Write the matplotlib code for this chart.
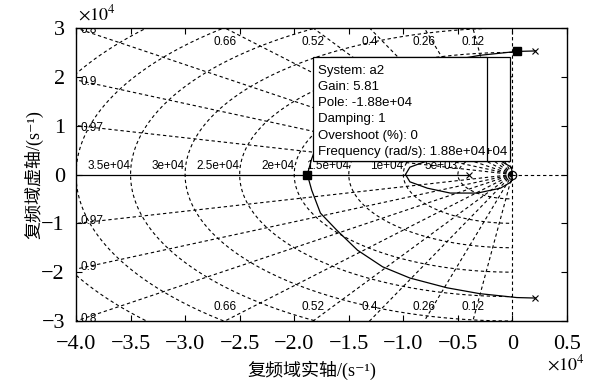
import numpy as np
import matplotlib
matplotlib.use("Agg")
import matplotlib.pyplot as plt
from matplotlib.transforms import offset_copy
from matplotlib.patches import Rectangle

plt.rcParams['mathtext.fontset'] = 'stix'

# ---------------- data ----------------
# upper half of the complex branch (lower half is its mirror)
branch_x = [0.21e4, 0.04e4, -0.30e4, -0.60e4, -0.94e4, -1.19e4, -1.42e4, -1.61e4, -1.76e4, -1.84e4, -1.88e4]
branch_y = [2.53e4, 2.52e4, 2.44e4, 2.32e4, 2.12e4, 1.89e4, 1.55e4, 1.14e4, 0.79e4, 0.32e4, 0.0]
# small loop near origin (upper half, mirrored)
loop_x = [-0.98e4, -0.94e4, -0.78e4, -0.57e4, -0.32e4, -0.11e4, -0.01e4, 0.0]
loop_y = [0.0, 0.15e4, 0.28e4, 0.38e4, 0.38e4, 0.28e4, 0.15e4, 0.0]
# real-axis branch
real_x = [-4.5e4, -0.4e4]
real_y = [0.0, 0.0]
pole_x = [0.21e4, 0.21e4, -0.4e4]
pole_y = [2.53e4, -2.53e4, 0.0]
zero_x = [0.0]
zero_y = [0.0]
tip_x = [-1.88e4, 0.04e4]
tip_y = [0.0, 2.52e4]

zeta_vals = [0.12, 0.26, 0.4, 0.52, 0.66, 0.8, 0.9, 0.97]
wn_vals = [5e3, 1e4, 1.5e4, 2e4, 2.5e4, 3e4, 3.5e4, 4e4, 4.5e4, 5e4]
wn_labels = ['5e+03', '1e+04', '1.5e+04', '2e+04', '2.5e+04', '3e+04', '3.5e+04']

xticks = [-4.0e4, -3.5e4, -3.0e4, -2.5e4, -2.0e4, -1.5e4, -1.0e4, -0.5e4, 0, 0.5e4]
xtick_labels = ['\u22124.0', '\u22123.5', '\u22123.0', '\u22122.5', '\u22122.0', '\u22121.5',
                '\u22121.0', '\u22120.5', '0', '0.5']
yticks = [-3e4, -2e4, -1e4, 0, 1e4, 2e4, 3e4]
ytick_labels = ['\u22123', '\u22122', '\u22121', '0', '1', '2', '3']

tip_front = "System: a2\nGain: 5.81\nPole: -1.88e+04\nDamping: 1\nOvershoot (%): 0\nFrequency (rad/s): 1.88e+04"
tip_back = "System: a2\nGain: 5.81e+03\nPole: 416+2.53e+04i\nDamping: -0.0164\nOvershoot (%): 105\nFrequency (rad/s): 2.53e+04"

xlabel = '复频域实轴/(s\u207b\u00b9)'
ylabel = '复频域虚轴/(s\u207b\u00b9)'

# ---------------- figure ----------------
W, H = 590, 387
fig = plt.figure(figsize=(W/100, H/100), dpi=100)
AX_L, AX_R, AX_T, AX_B = 76, 567, 28, 321
ax = fig.add_axes([AX_L/W, 1-AX_B/H, (AX_R-AX_L)/W, (AX_B-AX_T)/H])
xmin, xmax, ymin, ymax = -4e4, 0.5e4, -3e4, 3e4
ax.set_xlim(xmin, xmax)
ax.set_ylim(ymin, ymax)


def axfrac(px, py):
    return (px - AX_L) / (AX_R - AX_L), (AX_B - py) / (AX_B - AX_T)


dash = dict(color='k', lw=0.8, ls=(0, (3, 2.5)), zorder=1)
grid_font = dict(family='Liberation Sans', fontsize=8.5, color='k', zorder=2)

# damping lines
R = 1e5
for z in zeta_vals:
    s = np.sqrt(1 - z**2)
    ax.plot([0, -R*z], [0, R*s], **dash)
    ax.plot([0, -R*z], [0, -R*s], **dash)
# zeta = 0 / 1 axes
ax.axvline(0, **dash)
ax.plot([0, R], [0, 0], **dash)

# wn semicircles
th = np.linspace(np.pi/2, 3*np.pi/2, 500)
for w in wn_vals:
    ax.plot(w*np.cos(th), w*np.sin(th), **dash)

# wn labels
for w, lab in zip(wn_vals, wn_labels):
    ax.text(-w, 0.05e4, lab, ha='right', va='bottom', **grid_font)

# damping labels
for z in zeta_vals:
    s = np.sqrt(1 - z**2)
    xe = -ymax * z / s
    if xe > xmin + 0.05e4:
        for sg in (1, -1):
            tr = offset_copy(ax.transData, fig=fig, x=0, y=-6*sg, units='points')
            ax.text(xe, sg*ymax, f'{z:g}', transform=tr, ha='center',
                    va='top' if sg > 0 else 'bottom', **grid_font)
    else:
        ye = min(-xmin * s / z, ymax)
        for sg in (1, -1):
            tr = offset_copy(ax.transData, fig=fig, x=3, y=-1.5*sg, units='points')
            ax.text(xmin, sg*ye, f'{z:g}', transform=tr, ha='left', va='center',
                    clip_on=True, **grid_font)

# root locus
lk = dict(color='k', lw=0.9, zorder=3)
ax.plot(branch_x, branch_y, **lk)
ax.plot(branch_x, [-v for v in branch_y], **lk)
ax.plot(loop_x, loop_y, **lk)
ax.plot(loop_x, [-v for v in loop_y], **lk)
ax.plot(real_x, real_y, **lk)
ax.plot(pole_x, pole_y, ls='none', marker='x', ms=5, mew=0.8, color='k', zorder=4)
ax.plot(zero_x, zero_y, ls='none', marker='o', ms=6, mfc='none', mec='k', mew=0.9, zorder=4)
ax.plot(tip_x, tip_y, ls='none', marker='s', ms=6, color='k', zorder=6)

# data tips (boxes laid out in axes fraction)
tip_font = dict(family='Liberation Sans', fontsize=9.5, linespacing=1.46)
box_top, box_bot = 57, 161
for (l, r, zb) in [(330, 510, 7), (313, 487, 9)]:
    x0, y1 = axfrac(l, box_top)
    x1, y0 = axfrac(r, box_bot)
    ax.add_patch(Rectangle((x0, y0), x1 - x0, y1 - y0, transform=ax.transAxes,
                           fc='w', ec='k', lw=0.9, zorder=zb))
bx, by = axfrac(507, 65)
ax.text(bx, by, tip_back, transform=ax.transAxes, ha='right', va='top',
        multialignment='left', zorder=8, **tip_font)
fx, fy = axfrac(318, 65)
ax.text(fx, fy, tip_front, transform=ax.transAxes, ha='left', va='top',
        zorder=10, **tip_font)

# ticks
ax.set_xticks(xticks)
ax.set_xticklabels(xtick_labels)
ax.set_yticks(yticks)
ax.set_yticklabels(ytick_labels)
ax.tick_params(direction='in', length=4, width=0.8, top=True, right=True, labelsize=16)
ax.tick_params(axis='x', pad=10)
ax.tick_params(axis='y', pad=8)
for lab in ax.get_xticklabels() + ax.get_yticklabels():
    lab.set_family('Liberation Serif')
for sp in ax.spines.values():
    sp.set_linewidth(1.0)

lab_font = dict(family=['Liberation Serif', 'Noto Sans CJK SC', 'DejaVu Serif'], fontsize=13)
ax.set_xlabel(xlabel, **lab_font)
ax.set_ylabel(ylabel, **lab_font)
ax.xaxis.set_label_coords(0.48, -0.135)
ax.yaxis.set_label_coords(-0.066, 0.5)

ax.text(0.004, 1.015, r'$\times10^{4}$', transform=ax.transAxes, ha='left', va='bottom',
        fontsize=13)
ax.text(1.037, -0.112, r'$\times10^{4}$', transform=ax.transAxes, ha='right', va='top',
        fontsize=13)

fig.savefig('out.png', dpi=100)
